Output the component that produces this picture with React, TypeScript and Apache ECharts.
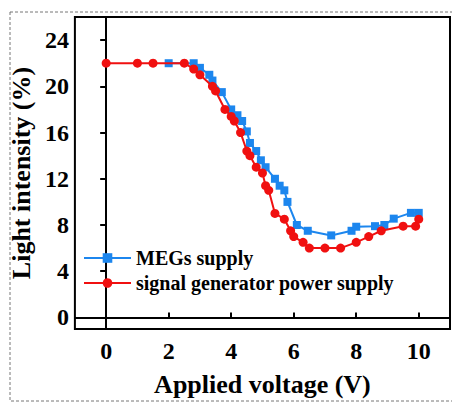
import React, { useEffect, useRef } from "react";
import * as echarts from "echarts";

const megsX = [2, 2.8, 3, 3.3, 3.4, 3.7, 4, 4.2, 4.35, 4.5, 4.6, 4.8, 4.95, 5.1, 5.4, 5.55, 5.7, 5.8, 6.1, 6.45, 7.2, 7.85, 8, 8.6, 8.9, 9.2, 9.75, 10];
const megsY = [22, 22, 21.6, 21, 20.5, 19.5, 18, 17.5, 17, 16.1, 15.1, 14.4, 13.6, 13, 12, 11.4, 11, 10, 8, 7.5, 7.1, 7.5, 7.85, 7.9, 8, 8.55, 9.05, 9.05];

const sigX = [0, 1, 1.5, 2.5, 2.8, 3, 3.4, 3.5, 3.8, 4, 4.1, 4.3, 4.5, 4.6, 4.8, 5, 5.1, 5.2, 5.4, 5.7, 5.9, 6, 6.3, 6.5, 7, 7.5, 8, 8.4, 8.8, 9.5, 9.9, 10];
const sigY = [22, 22, 22, 22, 21.5, 21, 20, 19.6, 18, 17.4, 17, 16, 14.4, 14, 13, 12.5, 11.4, 11, 9, 8.5, 7.5, 7, 6.5, 6, 6, 6, 6.5, 7, 7.5, 7.9, 7.9, 8.5];

const xTicks = [0, 2, 4, 6, 8, 10];
const yTicks = [0, 4, 8, 12, 16, 20, 24];

const seriesNames = ["MEGs supply", "signal generator power supply"];

const FONT = "'Times New Roman', 'Liberation Serif', serif";

export default function App() {
  const ref = useRef<HTMLDivElement>(null);
  useEffect(() => {
    if (!ref.current) return;
    const chart = echarts.init(ref.current, null, { renderer: "svg" });
    const megs = megsX.map((x, i) => [x, megsY[i]]);
    const sig = sigX.map((x, i) => [x, sigY[i]]);
    chart.setOption({
      animation: false,
      backgroundColor: "#fff",
      textStyle: { fontFamily: FONT, color: "#000" },
      grid: {
        left: 73,
        top: 17,
        right: 2,
        bottom: 72,
        show: true,
        borderColor: "#000",
        borderWidth: 2,
        backgroundColor: "transparent",
      },
      graphic: [
        {
          type: "rect",
          shape: { x: 10, y: 12, width: 470, height: 389 },
          style: { fill: "none", stroke: "#777", lineWidth: 1, lineDash: [3, 2] },
          silent: true,
          z: -1,
        },
      ],
      legend: {
        orient: "vertical",
        left: 83,
        top: 248,
        padding: 0,
        itemWidth: 47,
        itemHeight: 12,
        itemGap: 5,
        textStyle: { fontFamily: FONT, fontWeight: "bold", fontSize: 20, color: "#000" },
        data: seriesNames,
      },
      xAxis: {
        type: "value",
        min: -1,
        max: 11,
        name: "Applied voltage (V)",
        nameLocation: "middle",
        nameGap: 42,
        nameTextStyle: { fontFamily: FONT, fontWeight: "bold", fontSize: 26, color: "#000" },
        axisLine: { show: true, lineStyle: { color: "#000", width: 2 } },
        axisTick: { show: true, inside: true, length: 5, customValues: xTicks, lineStyle: { color: "#000", width: 2 } },
        axisLabel: {
          customValues: xTicks,
          margin: 10,
          fontFamily: FONT,
          fontWeight: "bold",
          fontSize: 24,
          color: "#000",
        },
        splitLine: { show: false },
      },
      yAxis: {
        type: "value",
        min: -1,
        max: 26,
        name: "Light intensity (%)",
        nameLocation: "middle",
        nameGap: 33,
        nameTextStyle: { fontFamily: FONT, fontWeight: "bold", fontSize: 26, color: "#000" },
        axisLine: { show: true, lineStyle: { color: "#000", width: 2 } },
        axisTick: { show: true, inside: false, length: 6, customValues: yTicks, lineStyle: { color: "#000", width: 2 } },
        axisLabel: {
          customValues: yTicks,
          margin: 6,
          fontFamily: FONT,
          fontWeight: "bold",
          fontSize: 24,
          color: "#000",
        },
        splitLine: { show: false },
      },
      series: [
        {
          name: seriesNames[0],
          type: "line",
          data: megs,
          symbol: "rect",
          symbolSize: 8,
          color: "#1c86ee",
          lineStyle: { width: 2, color: "#1c86ee" },
          itemStyle: { color: "#1c86ee" },
          z: 2,
        },
        {
          name: seriesNames[1],
          type: "line",
          data: sig,
          symbol: "circle",
          symbolSize: 9,
          color: "#f01010",
          lineStyle: { width: 2, color: "#f01010" },
          itemStyle: { color: "#f01010" },
          z: 3,
        },
      ],
    });
    return () => chart.dispose();
  }, []);
  return (
    <div
      ref={ref}
      style={{ position: "fixed", left: 0, top: 0, width: 452, height: 402 }}
    />
  );
}
